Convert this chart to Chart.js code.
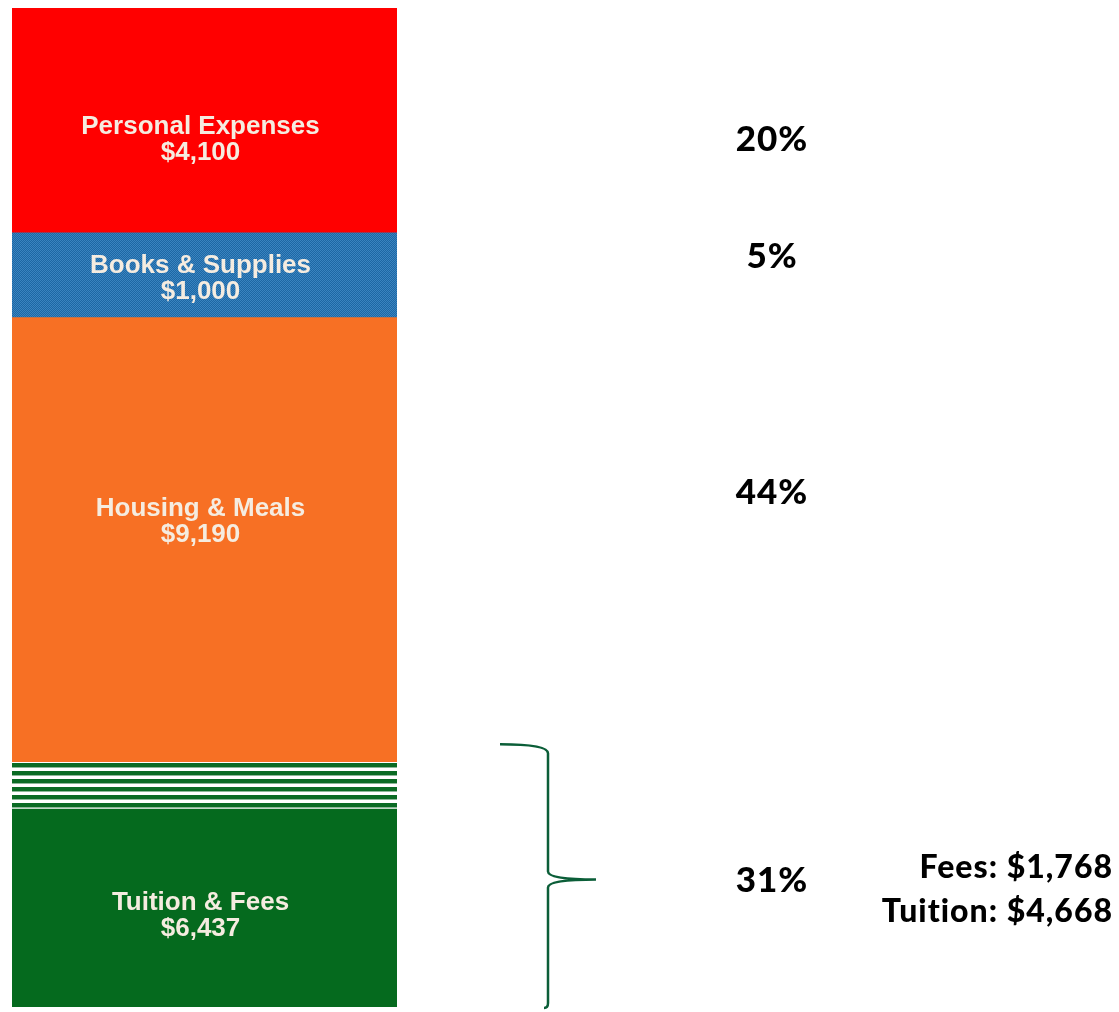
<!DOCTYPE html>
<html>
<head>
<meta charset="utf-8">
<script src="https://cdn.jsdelivr.net/npm/chart.js@4"></script>
<style>
  html, body { margin: 0; padding: 0; background: #fff; }
  #wrap { width: 1119px; height: 1012px; }
</style>
</head>
<body>
<div id="wrap"><canvas id="costChart"></canvas></div>
<script>
// Segments listed bottom to top, as stacked in the bar
const segmentNames = ['Tuition', 'Fees', 'Housing & Meals', 'Books & Supplies', 'Personal Expenses'];
// drawn height of each segment, as percent of the whole bar
const segmentHeights = [19.8, 4.7, 44.5, 8.5, 22.5];
// text inside the bar (fees + tuition share one label)
const barLabels = ['Tuition & Fees', null, 'Housing & Meals', 'Books & Supplies', 'Personal Expenses'];
const barAmounts = ['$6,437', null, '$9,190', '$1,000', '$4,100'];
// share of total cost, shown to the right
const sharePercents = ['31%', null, '44%', '5%', '20%'];
const tuitionBreakdown = ['Fees: $1,768', 'Tuition: $4,668'];

// fill patterns
function stripePattern() {
  const c = document.createElement('canvas');
  c.width = 8; c.height = 8;
  const g = c.getContext('2d');
  g.fillStyle = '#ffffff';
  g.fillRect(0, 0, 8, 8);
  g.fillStyle = '#0a6b24';
  g.fillRect(0, 3, 8, 4);
  g.fillStyle = '#8db899';
  g.fillRect(0, 7, 8, 1);
  return g.createPattern(c, 'repeat');
}
function dotPattern() {
  const c = document.createElement('canvas');
  c.width = 2; c.height = 2;
  const g = c.getContext('2d');
  g.fillStyle = '#1d67a4';
  g.fillRect(0, 0, 2, 2);
  g.fillStyle = '#3a84c0';
  g.fillRect(0, 0, 1, 1);
  g.fillRect(1, 1, 1, 1);
  return g.createPattern(c, 'repeat');
}

const fills = ['#056a1e', stripePattern(), '#f77024', dotPattern(), '#ff0000'];

// label nudges (px) so text sits where it does in the original
const barLabelNudge = [8, 0, -18, 4, 19];
const pctNudge = [-4, 0, -47, -19, 19];

const annotations = {
  id: 'annotations',
  afterDatasetsDraw(chart) {
    const ctx = chart.ctx;
    const y = chart.scales.y;
    const area = chart.chartArea;
    const barX = (area.left + area.right) / 2 - 4;
    const pctX = 772;

    let base = 0;
    const tops = [], bottoms = [];
    segmentHeights.forEach((h, i) => {
      bottoms[i] = y.getPixelForValue(base);
      base += h;
      tops[i] = y.getPixelForValue(base);
    });

    ctx.save();
    ctx.textAlign = 'center';
    ctx.textBaseline = 'middle';
    barLabels.forEach((lab, i) => {
      if (!lab) return;
      const mid = (tops[i] + bottoms[i]) / 2 + barLabelNudge[i];
      ctx.fillStyle = '#f5ece0';
      ctx.font = 'bold 26px "Liberation Sans", Arial, sans-serif';
      ctx.fillText(lab, barX, mid - 13);
      ctx.fillText(barAmounts[i], barX, mid + 13);
    });

    // percentages on the right
    ctx.fillStyle = '#000';
    ctx.letterSpacing = '1px';
    ctx.font = '900 35px Lato, "DejaVu Sans", sans-serif';
    sharePercents.forEach((p, i) => {
      if (!p) return;
      let top = tops[i], bottom = bottoms[i];
      if (i === 0) top = tops[1];
      ctx.fillText(p, pctX, (top + bottom) / 2 + pctNudge[i]);
    });

    // tuition & fees breakdown
    ctx.textAlign = 'right';
    ctx.font = '900 32px Lato, "DejaVu Sans", sans-serif';
    ctx.fillText(tuitionBreakdown[0], 1113, 868);
    ctx.fillText(tuitionBreakdown[1], 1113, 912);
    ctx.letterSpacing = '0px';

    // curly brace beside the tuition segment
    const bTop = tops[1] - 18;
    const bBot = bottoms[0];
    const bMid = (bTop + bBot) / 2 + 4;
    const x0 = 500, xv = 548, xt = 596;
    ctx.strokeStyle = '#0b5e38';
    ctx.lineWidth = 2.5;
    ctx.beginPath();
    ctx.moveTo(x0, bTop);
    ctx.quadraticCurveTo(xv, bTop, xv, bTop + 9);
    ctx.lineTo(xv, bMid - 8);
    ctx.quadraticCurveTo(xv, bMid, xt, bMid);
    ctx.quadraticCurveTo(xv, bMid, xv, bMid + 8);
    ctx.lineTo(xv, bBot - 4);
    ctx.quadraticCurveTo(xv, bBot + 1, xv - 4, bBot + 1);
    ctx.stroke();
    ctx.restore();
  }
};

const chart = new Chart(document.getElementById('costChart'), {
  type: 'bar',
  data: {
    labels: ['Cost'],
    datasets: segmentNames.map((name, i) => ({
      label: name,
      data: [segmentHeights[i]],
      backgroundColor: fills[i],
      borderWidth: 0,
      barPercentage: 1,
      categoryPercentage: 1,
      stack: 'total'
    }))
  },
  options: {
    responsive: true,
    maintainAspectRatio: false,
    animation: false,
    layout: { padding: { left: 12, right: 722, top: 8, bottom: 5 } },
    plugins: {
      legend: { display: false },
      tooltip: { enabled: false }
    },
    scales: {
      x: { stacked: true, display: false },
      y: { stacked: true, display: false, min: 0, max: 100 }
    }
  },
  plugins: [annotations]
});
</script>
</body>
</html>
